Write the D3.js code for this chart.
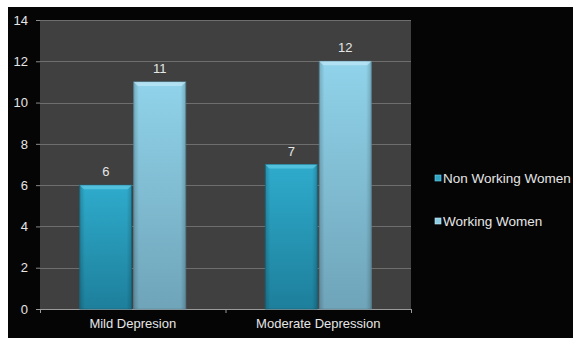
<!DOCTYPE html>
<html>
<head>
<meta charset="utf-8">
<script src="https://cdn.jsdelivr.net/npm/d3@7"></script>
<style>
  html, body { margin: 0; padding: 0; background: #ffffff; }
  svg { display: block; }
  text { font-family: "Liberation Sans", Arial, sans-serif; }
</style>
</head>
<body>
<svg id="chart" width="573" height="338"></svg>
<script>
// Chart data
const categories = ["Mild Depresion", "Moderate Depression"];
const seriesNames = ["Non Working Women", "Working Women"];
const nonWorking = [6, 7];
const working = [11, 12];
const yTicks = [0, 2, 4, 6, 8, 10, 12, 14];

const svg = d3.select("#chart");
const W = 573, H = 338;

// black panel behind everything (thin white margin on top and left)
svg.append("rect").attr("x", 8).attr("y", 7).attr("width", W - 8).attr("height", H - 7).attr("fill", "#050505");

const plot = { left: 40, right: 411, top: 20, bottom: 309 };

const x0 = d3.scaleBand().domain(categories).range([plot.left, plot.right]).paddingInner(0).paddingOuter(0);
const x1 = d3.scaleBand().domain(seriesNames).range([0, x0.bandwidth()]).paddingInner(0.0).paddingOuter(0.75);
const y = d3.scaleLinear().domain([0, 14]).range([plot.bottom, plot.top]);

// plot background
svg.append("rect").attr("x", plot.left).attr("y", plot.top)
  .attr("width", plot.right - plot.left).attr("height", plot.bottom - plot.top)
  .attr("fill", "#404040");

// gridlines
svg.append("g").selectAll("line").data(yTicks.filter(d => d > 0)).join("line")
  .attr("x1", plot.left).attr("x2", plot.right)
  .attr("y1", d => Math.round(y(d)) + 0.5).attr("y2", d => Math.round(y(d)) + 0.5)
  .attr("stroke", "#6e6e6e").attr("stroke-width", 1);

// y axis
const yAxis = svg.append("g").attr("transform", `translate(${plot.left},0)`)
  .call(d3.axisLeft(y).tickValues(yTicks).tickSize(4).tickPadding(8));
yAxis.select(".domain").remove();
yAxis.selectAll(".tick line").attr("stroke", "#8a8a8a");
yAxis.selectAll(".tick text").attr("fill", "#e6e6e6").attr("font-size", 13)
  .attr("font-family", "Liberation Sans, Arial, sans-serif");

// x axis
const xAxis = svg.append("g").attr("transform", `translate(0,${plot.bottom})`)
  .call(d3.axisBottom(x0).tickSize(0).tickPadding(10));
xAxis.select(".domain").attr("stroke", "#9a9a9a").attr("d", `M${plot.left - 4},0.5H${plot.right}`);
xAxis.selectAll(".tick text").attr("fill", "#e6e6e6").attr("font-size", 13)
  .attr("font-family", "Liberation Sans, Arial, sans-serif");
// category boundary ticks
svg.append("g").selectAll("line").data([plot.left, x0(categories[1]), plot.right]).join("line")
  .attr("x1", d => d + 0.5).attr("x2", d => d + 0.5)
  .attr("y1", plot.bottom).attr("y2", plot.bottom + 4)
  .attr("stroke", "#9a9a9a");

// gradients for the bars
const defs = svg.append("defs");
const palettes = [
  { id: "gNon", top: "#2fabcc", bottom: "#1d7f9b", hi: "#5fc8e4", edge: "#176a82" },
  { id: "gWork", top: "#90d3ea", bottom: "#6fa4b9", hi: "#bde6f5", edge: "#5f8fa2" }
];
palettes.forEach(p => {
  const lg = defs.append("linearGradient").attr("id", p.id).attr("x1", 0).attr("y1", 0).attr("x2", 0).attr("y2", 1);
  lg.append("stop").attr("offset", "0%").attr("stop-color", p.top);
  lg.append("stop").attr("offset", "100%").attr("stop-color", p.bottom);
  const sg = defs.append("linearGradient").attr("id", p.id + "s").attr("x1", 0).attr("y1", 0).attr("x2", 1).attr("y2", 0);
  sg.append("stop").attr("offset", "0%").attr("stop-color", "#000").attr("stop-opacity", 0.18);
  sg.append("stop").attr("offset", "10%").attr("stop-color", "#000").attr("stop-opacity", 0);
  sg.append("stop").attr("offset", "90%").attr("stop-color", "#000").attr("stop-opacity", 0);
  sg.append("stop").attr("offset", "100%").attr("stop-color", "#000").attr("stop-opacity", 0.18);
});

const series = [nonWorking, working];
const groups = svg.append("g").selectAll("g").data(categories).join("g")
  .attr("transform", c => `translate(${x0(c)},0)`);

groups.each(function (c, ci) {
  const g = d3.select(this);
  seriesNames.forEach((s, si) => {
    const v = series[si][ci];
    const p = palettes[si];
    const bx = x1(s) + (si === 1 ? 1 : 0);
    const bw = x1.bandwidth() - 1;
    const by = y(v);
    const bh = y(0) - y(v);
    g.append("rect").attr("x", bx).attr("y", by).attr("width", bw).attr("height", bh)
      .attr("fill", `url(#${p.id})`).attr("stroke", p.edge).attr("stroke-width", 0.8);
    g.append("rect").attr("x", bx).attr("y", by).attr("width", bw).attr("height", bh)
      .attr("fill", `url(#${p.id}s)`);
    // bevel highlight along the top edge
    g.append("path")
      .attr("d", `M${bx},${by}H${bx + bw}L${bx + bw - 4},${by + 4}H${bx + 4}Z`)
      .attr("fill", p.hi).attr("opacity", 0.75);
    // value label
    g.append("text").attr("x", bx + bw / 2).attr("y", by - 9)
      .attr("text-anchor", "middle").attr("fill", "#e6e6e6").attr("font-size", 13)
      .text(v);
  });
});

// legend
const legend = svg.append("g");
const legendY = [178, 221];
seriesNames.forEach((s, i) => {
  legend.append("rect").attr("x", 435).attr("y", legendY[i] - 3).attr("width", 6).attr("height", 6)
    .attr("fill", i === 0 ? "#2fa6c6" : "#8ccde4").attr("stroke", i === 0 ? "#6fd3ee" : "#c8ecf8").attr("stroke-width", 0.6);
  legend.append("text").attr("x", 443).attr("y", legendY[i]).attr("dy", "0.35em")
    .attr("fill", "#e6e6e6").attr("font-size", 13.5).text(s);
});
</script>
</body>
</html>
